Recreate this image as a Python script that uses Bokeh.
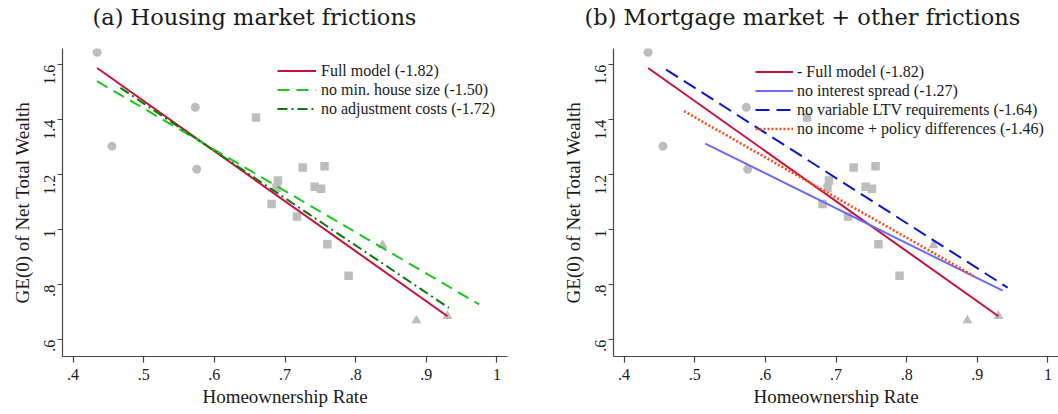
import math

from bokeh.embed import file_html
from bokeh.layouts import row
from bokeh.models import (CustomJSTickFormatter, FixedTicker, Legend,
                          LegendItem, Range1d, Title)
from bokeh.plotting import figure
from bokeh.resources import INLINE

# ---- observed countries: homeownership rate vs GE(0) of net total wealth ----
circle_x = [0.434, 0.455, 0.573, 0.575]
circle_y = [1.645, 1.304, 1.445, 1.220]
square_x = [0.659, 0.681, 0.688, 0.690, 0.717, 0.725, 0.742, 0.751, 0.756, 0.760, 0.790]
square_y = [1.408, 1.094, 1.153, 1.179, 1.048, 1.226, 1.156, 1.149, 1.231, 0.947, 0.833]
triangle_x = [0.838, 0.886, 0.930]
triangle_y = [0.944, 0.670, 0.686]

# ---- fitted lines: slope, intercept and x-span of each model variant ----
a_labels = ["Full model (-1.82)", "no min. house size (-1.50)", "no adjustment costs (-1.72)"]
a_slopes = [-1.82, -1.50, -1.72]
a_intercepts = [2.378, 2.191, 2.319]
a_x_start = [0.434, 0.434, 0.467]
a_x_end = [0.930, 0.975, 0.932]

b_labels = ["- Full model (-1.82)", "no interest spread (-1.27)",
            "no variable LTV requirements (-1.64)", "no income + policy differences (-1.46)"]
b_slopes = [-1.82, -1.27, -1.64, -1.46]
b_intercepts = [2.378, 1.967, 2.336, 2.139]
b_x_start = [0.434, 0.515, 0.4595, 0.485]
b_x_end = [0.930, 0.936, 0.943, 0.895]

x_ticks = [0.4, 0.5, 0.6, 0.7, 0.8, 0.9, 1.0]
y_ticks = [0.6, 0.8, 1.0, 1.2, 1.4, 1.6]

SERIF = "Liberation Serif"
TEXT = "#1a1a1a"
AXIS = "#444444"
MARKER = "#bdbdbd"

a_styles = [
    dict(line_color="#c8103c", line_dash="solid", line_width=2),
    dict(line_color="#19c819", line_dash="12 7", line_width=2),
    dict(line_color="#0b7a0b", line_dash="10 4 2 4", line_width=2),
]
b_styles = [
    dict(line_color="#c8103c", line_dash="solid", line_width=2),
    dict(line_color="#6a6af5", line_dash="solid", line_width=2),
    dict(line_color="#0a14d2", line_dash="14 7", line_width=2),
    dict(line_color="#ff4a12", line_dash="2 2", line_width=2.6),
]

FRAME_W, FRAME_H = 445, 308
fmt = CustomJSTickFormatter(code="""
    return tick.toFixed(1).replace(/^0/, '').replace(/\\.0$/, '');
""")


def make_panel(title, title_offset, labels, slopes, intercepts, xs, xe, styles,
               legend_x, legend_y, glyph_w, standoff, border_right):
    p = figure(frame_width=FRAME_W, frame_height=FRAME_H,
               min_border_left=62, min_border_right=border_right,
               min_border_top=48, min_border_bottom=56,
               x_range=Range1d(0.385, 1.015), y_range=Range1d(0.539, 1.659),
               output_backend="svg", toolbar_location=None)
    p.outline_line_color = None
    p.xgrid.visible = False
    p.ygrid.visible = False
    p.background_fill_color = "white"
    p.border_fill_color = "white"

    for ax in (p.xaxis[0], p.yaxis[0]):
        ax.formatter = fmt
        ax.axis_line_color = AXIS
        ax.axis_line_width = 1.2
        ax.major_tick_line_color = AXIS
        ax.major_tick_line_width = 1.2
        ax.major_tick_in = 0
        ax.minor_tick_line_color = None
        ax.major_label_text_font = SERIF
        ax.major_label_text_font_size = "16px"
        ax.major_label_text_color = TEXT
        ax.axis_label_text_font = SERIF
        ax.axis_label_text_font_size = "19px"
        ax.axis_label_text_font_style = "normal"
        ax.axis_label_text_color = TEXT

    p.xaxis.ticker = FixedTicker(ticks=x_ticks)
    p.xaxis.axis_label = "Homeownership Rate"
    p.xaxis.major_tick_out = 6
    p.xaxis.major_label_standoff = 6
    p.xaxis.axis_label_standoff = 3

    p.yaxis.ticker = FixedTicker(ticks=y_ticks)
    p.yaxis.axis_label = "GE(0) of Net Total Wealth"
    p.yaxis.major_tick_out = 5
    p.yaxis.major_label_orientation = math.pi / 2
    p.yaxis.major_label_standoff = 8
    p.yaxis.axis_label_standoff = 3

    # observations
    p.scatter(circle_x, circle_y, marker="circle", size=9,
              fill_color=MARKER, line_color=None)
    p.scatter(square_x, square_y, marker="square", size=8.5,
              fill_color=MARKER, line_color=None)
    p.scatter(triangle_x, triangle_y, marker="triangle", size=10,
              fill_color=MARKER, line_color=None)

    # fitted lines
    items = []
    for lab, b, a, x0, x1, st in zip(labels, slopes, intercepts, xs, xe, styles):
        r = p.line([x0, x1], [a + b * x0, a + b * x1], line_cap="butt", **st)
        items.append(LegendItem(label=lab, renderers=[r]))

    legend = Legend(items=items, location=(legend_x, legend_y),
                    orientation="vertical")
    legend.border_line_color = None
    legend.background_fill_alpha = 0
    legend.padding = 0
    legend.margin = 0
    legend.spacing = 0
    legend.glyph_width = glyph_w
    legend.glyph_height = 19
    legend.label_height = 19
    legend.label_standoff = standoff
    legend.label_text_font = SERIF
    legend.label_text_font_size = "16px"
    legend.label_text_color = TEXT
    p.add_layout(legend, "center")

    # gap between the panel title and the plotting area
    p.add_layout(Title(text=" ", text_font_size="1px", standoff=14), "above")
    p.add_layout(Title(text=title, align="left", offset=title_offset,
                       vertical_align="top", standoff=0,
                       text_font="DejaVu Serif", text_font_size="22.5px",
                       text_font_style="normal", text_color=TEXT), "above")
    return p


pa = make_panel("(a) Housing market frictions", 30,
                a_labels, a_slopes, a_intercepts, a_x_start, a_x_end, a_styles,
                215, 238, 39, 5, 44)
pb = make_panel("(b) Mortgage market + other frictions", -29,
                b_labels, b_slopes, b_intercepts, b_x_start, b_x_end, b_styles,
                142, 218, 38, 4, 0)

layout = row(pa, pb)
open("out.html", "w").write(file_html(layout, INLINE))
